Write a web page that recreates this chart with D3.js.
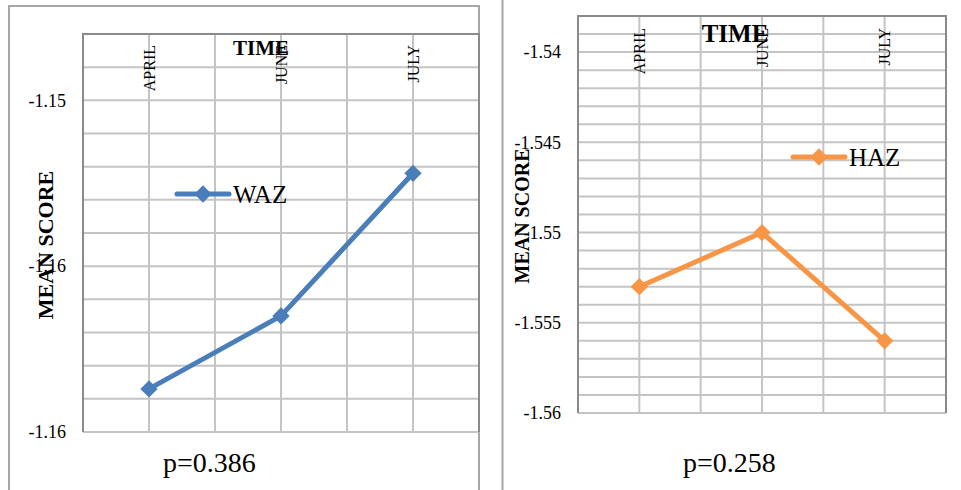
<!DOCTYPE html>
<html>
<head>
<meta charset="utf-8">
<script src="https://cdn.jsdelivr.net/npm/d3@7"></script>
<style>
  body { margin: 0; background: #fff; }
  svg { display: block; font-family: "Liberation Serif", "DejaVu Serif", serif; }
</style>
</head>
<body>
<svg id="chart" width="961" height="490"></svg>
<script>
// data
const months = ["APRIL", "JUNE", "JULY"];

const wazValues = [-1.1587, -1.1565, -1.1522];
const wazDomain = [-1.16, -1.148];
const wazTicks = [-1.15, -1.155, -1.16];
const wazTickLabels = ["-1.15", "-1.16", "-1.16"];

const hazValues = [-1.553, -1.550, -1.556];
const hazDomain = [-1.56, -1.538];
const hazTicks = [-1.54, -1.545, -1.55, -1.555, -1.56];
const hazTickLabels = ["-1.54", "-1.545", "-1.55", "-1.555", "-1.56"];

const svg = d3.select("#chart");

// outer frames
svg.append("rect")
    .attr("x", 9).attr("y", 6)
    .attr("width", 470).attr("height", 500)
    .attr("fill", "none")
    .attr("stroke", "#a6a6a6")
    .attr("stroke-width", 2);

svg.append("line")
    .attr("x1", 502.5).attr("x2", 502.5)
    .attr("y1", 0).attr("y2", 490)
    .attr("stroke", "#a6a6a6")
    .attr("stroke-width", 2);

const drawPanel = (p) => {
    const g = svg.append("g");

    const x = d3.scaleBand()
        .domain(months)
        .range([p.left, p.right])
        .padding(0);

    const y = d3.scaleLinear()
        .domain(p.domain)
        .range([p.bottom, p.top]);

    // horizontal gridlines every 0.001
    const minor = y.ticks(Math.round((p.domain[1] - p.domain[0]) / 0.001));
    g.selectAll(".hgrid")
        .data(minor)
        .enter().append("line")
        .attr("class", "hgrid")
        .attr("x1", p.left).attr("x2", p.right)
        .attr("y1", d => y(d)).attr("y2", d => y(d))
        .attr("stroke", "#c4c4c4")
        .attr("stroke-width", 2);

    // vertical gridlines at category edges and centres
    const vx = [];
    months.forEach(m => {
        vx.push(x(m));
        vx.push(x(m) + x.bandwidth() / 2);
    });
    vx.push(p.right);
    g.selectAll(".vgrid")
        .data(vx)
        .enter().append("line")
        .attr("class", "vgrid")
        .attr("x1", d => d).attr("x2", d => d)
        .attr("y1", p.top).attr("y2", p.bottom)
        .attr("stroke", "#c4c4c4")
        .attr("stroke-width", 2);

    // plot border top / left / right
    g.append("path")
        .attr("d", `M${p.left},${p.bottom}V${p.top}H${p.right}V${p.bottom}`)
        .attr("fill", "none")
        .attr("stroke", "#8a8a8a")
        .attr("stroke-width", 2);

    // y tick labels
    g.selectAll(".ytick")
        .data(p.ticks)
        .enter().append("text")
        .attr("class", "ytick")
        .attr("x", p.tickX)
        .attr("y", d => y(d))
        .attr("dy", "0.35em")
        .attr("text-anchor", "end")
        .style("font-size", "18px")
        .text((d, i) => p.tickLabels[i]);

    // category labels (rotated, at top)
    g.selectAll(".xlab")
        .data(months)
        .enter().append("text")
        .attr("class", "xlab")
        .attr("transform", d => `translate(${x(d) + x.bandwidth() / 2},${p.catTop}) rotate(-90)`)
        .attr("dy", "0.35em")
        .attr("text-anchor", "end")
        .style("font-size", "16px")
        .text(d => d);

    // axis titles
    g.append("text")
        .attr("x", p.timeX)
        .attr("y", p.timeY)
        .attr("text-anchor", "middle")
        .style("font-size", p.timeSize + "px")
        .style("font-weight", "bold")
        .text("TIME");

    g.append("text")
        .attr("transform", `translate(${p.yLabX},${p.yLabY}) rotate(-90)`)
        .attr("dy", "0.35em")
        .attr("text-anchor", "middle")
        .style("font-size", p.yLabSize + "px")
        .style("font-weight", "bold")
        .text("MEAN SCORE");

    // series line
    const line = d3.line()
        .x((d, i) => x(months[i]) + x.bandwidth() / 2)
        .y(d => y(d));

    g.append("path")
        .datum(p.values)
        .attr("d", line)
        .attr("fill", "none")
        .attr("stroke", p.color)
        .attr("stroke-width", 5)
        .attr("stroke-linejoin", "round");

    const diamond = d3.symbol().type(d3.symbolSquare).size(150);

    g.selectAll(".dot")
        .data(p.values)
        .enter().append("path")
        .attr("class", "dot")
        .attr("d", diamond)
        .attr("transform", (d, i) => `translate(${x(months[i]) + x.bandwidth() / 2},${y(d)}) rotate(45)`)
        .attr("fill", p.color);

    // legend
    g.append("line")
        .attr("x1", p.legX).attr("x2", p.legX + 52)
        .attr("y1", p.legY).attr("y2", p.legY)
        .attr("stroke", p.color)
        .attr("stroke-width", 5)
        .attr("stroke-linecap", "round");

    g.append("path")
        .attr("d", diamond)
        .attr("transform", `translate(${p.legX + 26},${p.legY}) rotate(45)`)
        .attr("fill", p.color);

    g.append("text")
        .attr("x", p.legX + 56)
        .attr("y", p.legY + 9)
        .style("font-size", "25px")
        .text(p.name);

    // p value
    g.append("text")
        .attr("x", p.pX)
        .attr("y", 472)
        .style("font-size", "28px")
        .text(p.pText);
};

drawPanel({
    name: "WAZ", values: wazValues, color: "#4a7ebb",
    domain: wazDomain, ticks: wazTicks, tickLabels: wazTickLabels,
    left: 83, right: 479, top: 34, bottom: 432,
    tickX: 66, catTop: 45,
    timeX: 261, timeY: 55, timeSize: 21,
    yLabX: 45, yLabY: 245, yLabSize: 22,
    legX: 177, legY: 194,
    pX: 163, pText: "p=0.386"
});

drawPanel({
    name: "HAZ", values: hazValues, color: "#f79646",
    domain: hazDomain, ticks: hazTicks, tickLabels: hazTickLabels,
    left: 578, right: 946, top: 16, bottom: 413,
    tickX: 561, catTop: 28,
    timeX: 735, timeY: 42, timeSize: 25,
    yLabX: 522, yLabY: 216, yLabSize: 20,
    legX: 793, legY: 157,
    pX: 683, pText: "p=0.258"
});
</script>
</body>
</html>
